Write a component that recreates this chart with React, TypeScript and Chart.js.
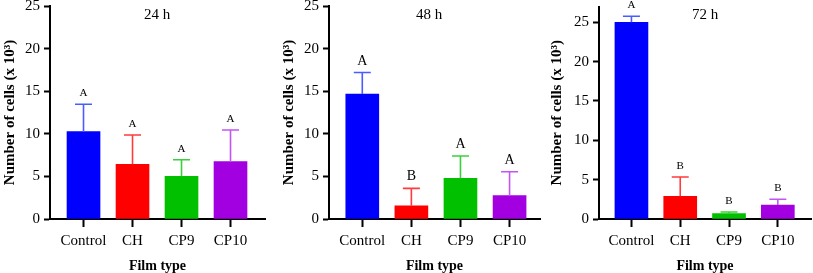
import React, { useEffect, useRef } from "react";
import { Chart, registerables } from "chart.js";

Chart.register(...registerables);

const categories = ["Control", "CH", "CP9", "CP10"];
const barColors = ["#0000FF", "#FF0000", "#00C000", "#A200E0"];
const errColors = ["#4A5CFF", "#FF3B3B", "#3CCF3C", "#C255F5"];

const means24 = [10.25, 6.42, 5.01, 6.73];
const upper24 = [13.46, 9.86, 6.96, 10.45];
const letters24 = ["A", "A", "A", "A"];

const means48 = [14.67, 1.56, 4.77, 2.74];
const upper48 = [17.2, 3.6, 7.39, 5.55];
const letters48 = ["A", "B", "A", "A"];

const means72 = [25.0, 2.88, 0.68, 1.78];
const upper72 = [25.76, 5.34, 0.89, 2.5];
const letters72 = ["A", "B", "B", "B"];

const yTicks = [0, 5, 10, 15, 20, 25];

type PanelCfg = {
  title: string;
  means: number[];
  upper: number[];
  letters: string[];
  yMax: number;
  xMin: number;
  xMax: number;
  yWidth: number;
  yTitlePad: number;
  padRight: number;
  padTop: number;
  letterSize: number;
  letterGap: number;
  titleX: number;
};

const panels: PanelCfg[] = [
  { title: "24 h", means: means24, upper: upper24, letters: letters24, yMax: 25, xMin: -0.684, xMax: 3.704, yWidth: 50, yTitlePad: 1, padRight: 6, padTop: 6, letterSize: 11, letterGap: 11, titleX: 157 },
  { title: "48 h", means: means48, upper: upper48, letters: letters48, yMax: 25, xMin: -0.678, xMax: 3.62, yWidth: 58, yTitlePad: 9, padRight: 2, padTop: 6, letterSize: 14, letterGap: 11.5, titleX: 158 },
  { title: "72 h", means: means72, upper: upper72, letters: letters72, yMax: 27, xMin: -0.665, xMax: 3.68, yWidth: 57, yTitlePad: 6, padRight: 2, padTop: 6.5, letterSize: 11, letterGap: 11, titleX: 163 },
];

const FONT = "'Liberation Serif', 'Times New Roman', serif";

function Panel({ cfg, left }: { cfg: PanelCfg; left: number }) {
  const ref = useRef<HTMLCanvasElement | null>(null);
  useEffect(() => {
    if (!ref.current) return;
    const errPlugin = {
      id: "errbars",
      afterDatasetsDraw(chart: any) {
        const ctx = chart.ctx;
        const xs = chart.scales.x;
        const ys = chart.scales.y;
        ctx.save();
        cfg.means.forEach((m, i) => {
          const x = xs.getPixelForValue(i);
          const y0 = ys.getPixelForValue(m);
          const y1 = ys.getPixelForValue(cfg.upper[i]);
          ctx.strokeStyle = errColors[i];
          ctx.lineWidth = 1.6;
          ctx.beginPath();
          ctx.moveTo(x, y0);
          ctx.lineTo(x, y1);
          ctx.moveTo(x - 8.5, y1);
          ctx.lineTo(x + 8.5, y1);
          ctx.stroke();
          ctx.fillStyle = "#000";
          ctx.font = `${cfg.letterSize}px ${FONT}`;
          ctx.textAlign = "center";
          ctx.textBaseline = "middle";
          ctx.fillText(cfg.letters[i], x, y1 - cfg.letterGap);
        });
        ctx.font = `15px ${FONT}`;
        ctx.fillStyle = "#000";
        ctx.textAlign = "center";
        ctx.textBaseline = "middle";
        ctx.fillText(cfg.title, cfg.titleX, 15);
        ctx.restore();
      },
    };
    const chart = new Chart(ref.current, {
      type: "bar",
      data: {
        datasets: [
          {
            data: cfg.means.map((v, i) => ({ x: i, y: v })),
            backgroundColor: barColors,
            borderWidth: 0,
            barThickness: 33,
          },
        ],
      },
      options: {
        animation: false,
        responsive: true,
        maintainAspectRatio: false,
        layout: { padding: { left: 0, right: cfg.padRight, top: cfg.padTop, bottom: 0 } },
        plugins: { legend: { display: false }, tooltip: { enabled: false } },
        scales: {
          x: {
            type: "linear",
            min: cfg.xMin,
            max: cfg.xMax,
            offset: false,
            bounds: "data",
            afterBuildTicks: (s: any) => {
              s.ticks = categories.map((_, i) => ({ value: i }));
            },
            afterFit: (s: any) => {
              s.height = 54;
              s.paddingLeft = 0;
              s.paddingRight = 0;
            },
            grid: { display: true, offset: false, drawOnChartArea: false, drawTicks: true, tickLength: 8, tickWidth: 2, tickColor: "#000" },
            border: { display: true, color: "#000", width: 2 },
            ticks: {
              color: "#000",
              font: { family: FONT, size: 15 },
              padding: 5,
              maxRotation: 0,
              autoSkip: false,
              callback: (v: any) => categories[Math.round(Number(v))] ?? "",
            },
            title: {
              display: true,
              text: "Film type",
              color: "#000",
              font: { family: FONT, size: 14, weight: "bold" },
              padding: { top: 0, bottom: -2 },
            },
          },
          y: {
            type: "linear",
            min: 0,
            max: cfg.yMax,
            bounds: "data",
            afterBuildTicks: (s: any) => {
              s.ticks = yTicks.map((v) => ({ value: v }));
            },
            afterFit: (s: any) => {
              s.width = cfg.yWidth;
              s.paddingTop = 0;
              s.paddingBottom = 0;
            },
            grid: { display: true, drawOnChartArea: false, drawTicks: true, tickLength: 6, tickWidth: 2, tickColor: "#000" },
            border: { display: true, color: "#000", width: 2 },
            ticks: {
              color: "#000",
              font: { family: FONT, size: 15 },
              padding: 4,
            },
            title: {
              display: true,
              text: "Number of cells (x 10³)",
              color: "#000",
              font: { family: FONT, size: 15, weight: "bold" },
              padding: { top: cfg.yTitlePad, bottom: 0 },
            },
          },
        },
      } as any,
      plugins: [errPlugin],
    });
    return () => chart.destroy();
  }, [cfg]);
  return (
    <div style={{ position: "absolute", left, top: 0, width: 271, height: 273 }}>
      <canvas ref={ref} />
    </div>
  );
}

export default function App() {
  return (
    <div style={{ position: "absolute", left: 0, top: 0, width: 813, height: 273, background: "#fff" }}>
      {panels.map((p, i) => (
        <Panel key={i} cfg={p} left={i * 271} />
      ))}
    </div>
  );
}
